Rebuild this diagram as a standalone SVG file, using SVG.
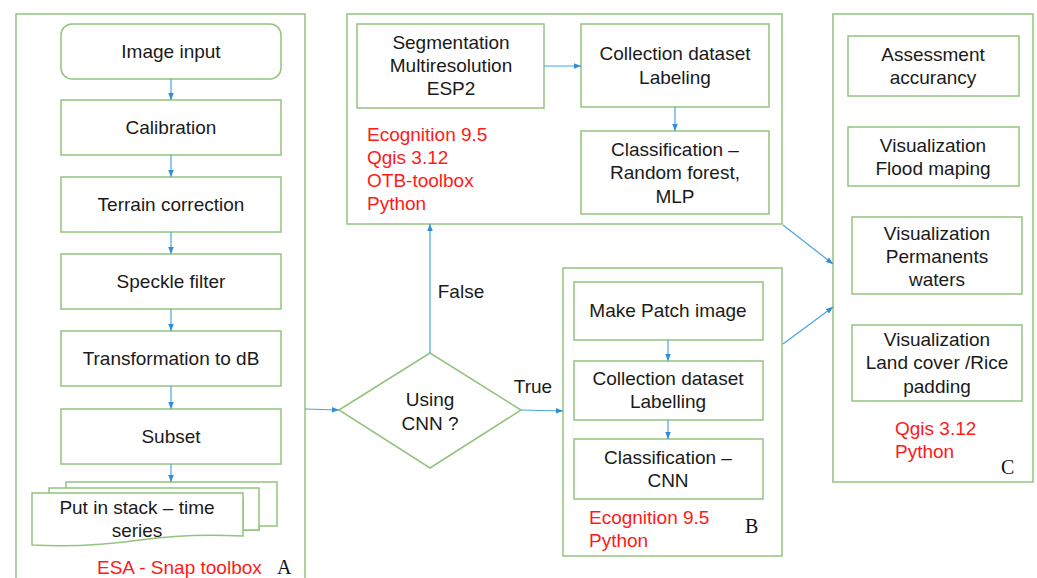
<svg xmlns="http://www.w3.org/2000/svg" width="1037" height="578" viewBox="0 0 1037 578">
<style>
.box{fill:#fff;stroke:#93c47d;stroke-width:1.5}
.panel{fill:none;stroke:#93c47d;stroke-width:1.5}
.t{font-family:"Liberation Sans",Arial,sans-serif;font-size:19px;fill:#1a1a1a;text-anchor:middle}
.r{font-family:"Liberation Sans",Arial,sans-serif;font-size:19px;fill:#ff1a1a}
.s{font-family:"Liberation Serif","Times New Roman",serif;font-size:20px;fill:#111}
.c{stroke:#4aa3df;stroke-width:1.2;fill:none;marker-end:url(#ah)}
</style>
<defs>
<marker id="ah" viewBox="0 0 10 10" refX="10" refY="5" markerWidth="7" markerHeight="7" markerUnits="userSpaceOnUse" orient="auto">
<path d="M0,1 L10,5 L0,9 Z" fill="#2f8fd6"/>
</marker>
</defs>
<rect width="1037" height="578" fill="#fff"/>

<g id="panelA">
<rect class="panel" x="16" y="14" width="289" height="580"/>
<text class="r" x="97" y="574">ESA - Snap toolbox</text>
<text class="s" x="277" y="574">A</text>
</g>
<g id="imageInput"><rect class="box" x="61" y="24" width="220" height="55" rx="11"/><text class="t" x="171" y="58">Image input</text></g>
<g id="calibration"><rect class="box" x="61" y="100" width="220" height="55"/><text class="t" x="171" y="134">Calibration</text></g>
<g id="terrain"><rect class="box" x="61" y="177" width="220" height="55"/><text class="t" x="171" y="211">Terrain correction</text></g>
<g id="speckle"><rect class="box" x="61" y="254" width="220" height="55"/><text class="t" x="171" y="288">Speckle filter</text></g>
<g id="todb"><rect class="box" x="61" y="331" width="220" height="55"/><text class="t" x="171" y="365">Transformation to dB</text></g>
<g id="subset"><rect class="box" x="61" y="409" width="220" height="55"/><text class="t" x="171" y="443">Subset</text></g>
<g id="stack">
<path class="box" d="M66,482 H277 V526 H259 V530 H243 V500 H66 Z"/>
<path class="box" d="M49,488 H259 V530 H243 V500 H49 Z"/>
<path class="box" d="M32,493 H243 V536 C205,534 175,535 140,540 C105,545 70,547 32,545 Z"/>
<text class="t" x="137" y="514">Put in stack – time</text>
<text class="t" x="137" y="537">series</text>
</g>

<g id="panelTop">
<rect class="panel" x="347" y="14" width="435" height="210"/>
<text class="r" x="367" y="141">Ecognition 9.5</text>
<text class="r" x="367" y="164">Qgis 3.12</text>
<text class="r" x="367" y="187">OTB-toolbox</text>
<text class="r" x="367" y="210">Python</text>
</g>
<g id="segmentation"><rect class="box" x="357" y="24" width="187" height="84"/>
<text class="t" x="451" y="49">Segmentation</text><text class="t" x="451" y="72">Multiresolution</text><text class="t" x="451" y="95">ESP2</text></g>
<g id="collection1"><rect class="box" x="581" y="24" width="188" height="83"/>
<text class="t" x="675" y="60">Collection dataset</text><text class="t" x="675" y="84">Labeling</text></g>
<g id="classification1"><rect class="box" x="581" y="131" width="188" height="83"/>
<text class="t" x="675" y="156">Classification –</text><text class="t" x="675" y="179">Random forest,</text><text class="t" x="675" y="203">MLP</text></g>

<g id="decision"><path class="box" d="M339,410 L430,353 L521,410 L430,468 Z"/>
<text class="t" x="430" y="406">Using</text><text class="t" x="430" y="430">CNN ?</text></g>

<g id="panelB">
<rect class="panel" x="563" y="268" width="219" height="288"/>
<text class="r" x="589" y="524">Ecognition 9.5</text>
<text class="r" x="589" y="547">Python</text>
<text class="s" x="745" y="533">B</text>
</g>
<g id="patch"><rect class="box" x="574" y="282" width="189" height="58"/><text class="t" x="668" y="317">Make Patch image</text></g>
<g id="collection2"><rect class="box" x="574" y="361" width="189" height="59"/>
<text class="t" x="668" y="385">Collection dataset</text><text class="t" x="668" y="408">Labelling</text></g>
<g id="classification2"><rect class="box" x="574" y="439" width="189" height="60"/>
<text class="t" x="668" y="464">Classification –</text><text class="t" x="668" y="487">CNN</text></g>

<g id="panelC">
<rect class="panel" x="833" y="14" width="200" height="468"/>
<text class="r" x="895" y="435">Qgis 3.12</text>
<text class="r" x="895" y="458">Python</text>
<text class="s" x="1001" y="474">C</text>
</g>
<g id="assessment"><rect class="box" x="848" y="36" width="171" height="60"/>
<text class="t" x="933" y="61">Assessment</text><text class="t" x="933" y="84">accurancy</text></g>
<g id="flood"><rect class="box" x="848" y="127" width="171" height="59"/>
<text class="t" x="933" y="152">Visualization</text><text class="t" x="933" y="175">Flood maping</text></g>
<g id="permanent"><rect class="box" x="852" y="217" width="170" height="77"/>
<text class="t" x="937" y="240">Visualization</text><text class="t" x="937" y="263">Permanents</text><text class="t" x="937" y="286">waters</text></g>
<g id="landcover"><rect class="box" x="852" y="325" width="170" height="76"/>
<text class="t" x="937" y="346">Visualization</text><text class="t" x="937" y="369">Land cover /Rice</text><text class="t" x="937" y="393">padding</text></g>

<g id="connectors">
<line class="c" x1="171" y1="79" x2="171" y2="100"/>
<line class="c" x1="171" y1="155" x2="171" y2="177"/>
<line class="c" x1="171" y1="232" x2="171" y2="254"/>
<line class="c" x1="171" y1="309" x2="171" y2="331"/>
<line class="c" x1="171" y1="386" x2="171" y2="409"/>
<line class="c" x1="171" y1="464" x2="171" y2="482"/>
<line class="c" x1="305" y1="409" x2="339" y2="410"/>
<line class="c" x1="430" y1="353" x2="430" y2="224"/>
<line class="c" x1="521" y1="410" x2="563" y2="411"/>
<line class="c" x1="544" y1="66" x2="581" y2="66"/>
<line class="c" x1="675" y1="107" x2="675" y2="131"/>
<line class="c" x1="668" y1="340" x2="668" y2="361"/>
<line class="c" x1="668" y1="420" x2="668" y2="439"/>
<line class="c" x1="783" y1="225" x2="833" y2="264"/>
<line class="c" x1="783" y1="344" x2="833" y2="307"/>
<text class="t" x="461" y="298">False</text>
<text class="t" x="533" y="393">True</text>
</g>
</svg>
